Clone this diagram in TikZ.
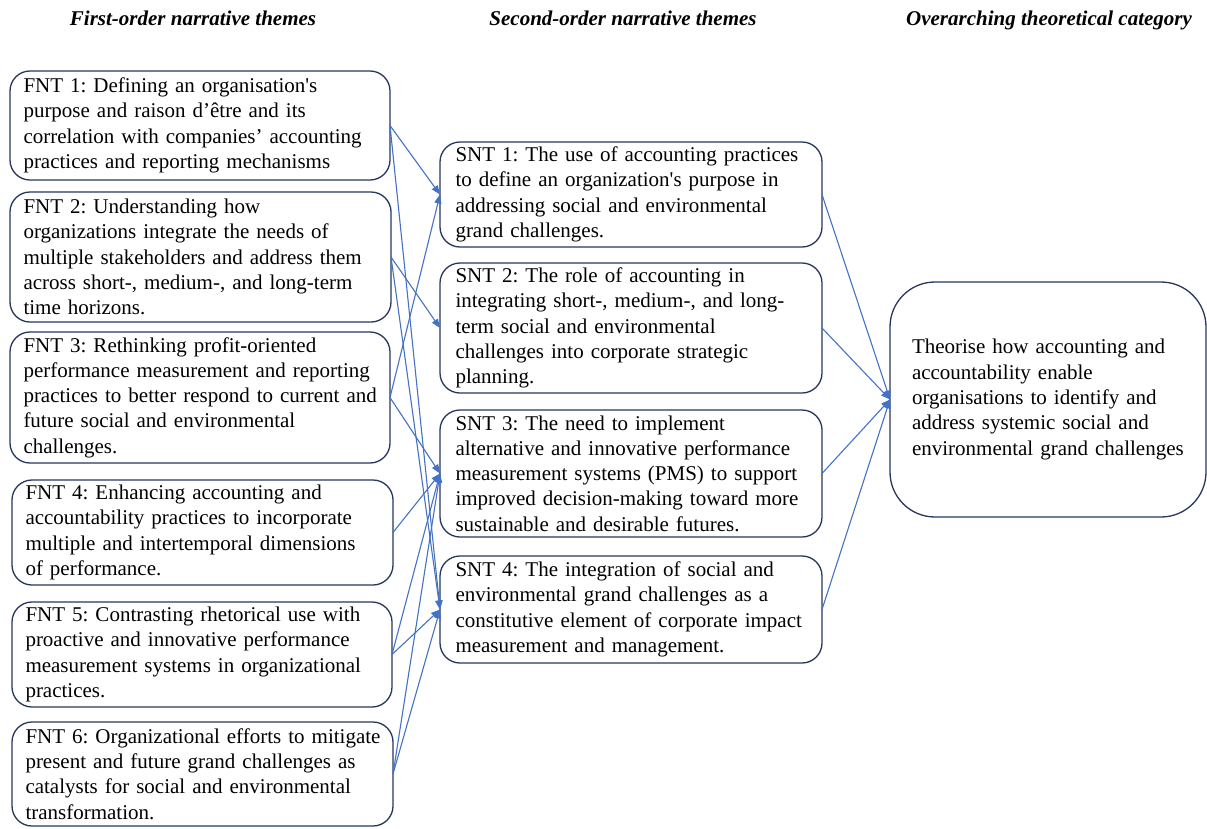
\documentclass[tikz,border=0pt]{standalone}
\usepackage{fontspec}
\setmainfont{Liberation Serif}
\newfontfamily\bodyfont{Liberation Serif}[Ligatures=TeXOff]
\usetikzlibrary{arrows.meta}
\definecolor{boxline}{HTML}{26385E}
\definecolor{arrowcol}{HTML}{4472C4}
\newcommand\tline[1]{\mbox{#1}}
\tikzset{
  x=1pt, y=-1pt,
  themebox/.style={draw=boxline, line width=1.3pt, rounded corners=20pt, align=left,
    font=\bodyfont\fontsize{21}{25.3}\selectfont\frenchspacing, inner ysep=0pt, anchor=north west, outer sep=0pt},
  header/.style={font=\fontsize{21}{25}\selectfont\bfseries\itshape, anchor=base, inner sep=0pt},
  link/.style={draw=arrowcol, line width=1.1pt, -{Triangle[length=9pt,width=7pt]}}
}
\begin{document}
\begin{tikzpicture}
\useasboundingbox (0,0) rectangle (1207,828);
\fill[white] (0,0) rectangle (1207,828);

\node[header] (h1) at (193,25) {First-order narrative themes};
\node[header] (h2) at (623,25) {Second-order narrative themes};
\node[header] (h3) at (1049,25) {Overarching theoretical category};

% First-order boxes
\node[themebox, inner xsep=13.5pt, text width=353pt, minimum height=109pt] (f1) at (10,71)
 {\tline{FNT 1: Defining an organisation's}\\\tline{purpose and raison d’être and its}\\\tline{correlation with companies’ accounting}\\\tline{practices and reporting mechanisms}};
\node[themebox, inner xsep=13.5pt, text width=354pt, minimum height=130pt] (f2) at (10,192)
 {\tline{FNT 2: Understanding how}\\\tline{organizations integrate the needs of}\\\tline{multiple stakeholders and address them}\\\tline{across short-, medium-, and long-term}\\\tline{time horizons.}};
\node[themebox, inner xsep=13.5pt, text width=353pt, minimum height=131pt] (f3) at (10,332)
 {\tline{FNT 3: Rethinking profit-oriented}\\\tline{performance measurement and reporting}\\\tline{practices to better respond to current and}\\\tline{future social and environmental}\\\tline{challenges.}};
\node[themebox, inner xsep=13.5pt, text width=354pt, minimum height=105pt] (f4) at (12,480)
 {\tline{FNT 4: Enhancing accounting and}\\\tline{accountability practices to incorporate}\\\tline{multiple and intertemporal dimensions}\\\tline{of performance.}};
\node[themebox, inner xsep=13.5pt, text width=353pt, minimum height=105pt] (f5) at (12,602)
 {\tline{FNT 5: Contrasting rhetorical use with}\\\tline{proactive and innovative performance}\\\tline{measurement systems in organizational}\\\tline{practices.}};
\node[themebox, inner xsep=13.5pt, text width=354pt, minimum height=104pt] (f6) at (12,722)
 {\tline{FNT 6: Organizational efforts to mitigate}\\\tline{present and future grand challenges as}\\\tline{catalysts for social and environmental}\\\tline{transformation.}};

% Second-order boxes
\node[themebox, inner xsep=15.5pt, text width=351pt, minimum height=105pt] (s1) at (440,142)
 {\tline{SNT 1: The use of accounting practices}\\\tline{to define an organization's purpose in}\\\tline{addressing social and environmental}\\\tline{grand challenges.}};
\node[themebox, inner xsep=15.5pt, text width=351pt, minimum height=130pt] (s2) at (440,263)
 {\tline{SNT 2: The role of accounting in}\\\tline{integrating short-, medium-, and long-}\\\tline{term social and environmental}\\\tline{challenges into corporate strategic}\\\tline{planning.}};
\node[themebox, inner xsep=15.5pt, text width=351pt, minimum height=127pt] (s3) at (440,410)
 {\tline{SNT 3: The need to implement}\\\tline{alternative and innovative performance}\\\tline{measurement systems (PMS) to support}\\\tline{improved decision-making toward more}\\\tline{sustainable and desirable futures.}};
\node[themebox, inner xsep=15.5pt, text width=351pt, minimum height=107pt] (s4) at (440,556)
 {\tline{SNT 4: The integration of social and}\\\tline{environmental grand challenges as a}\\\tline{constitutive element of corporate impact}\\\tline{measurement and management.}};

% Overarching box
\node[themebox, rounded corners=45pt, inner xsep=22pt, text width=272pt, minimum height=235pt] (o) at (890,282)
 {\tline{Theorise how accounting and}\\\tline{accountability enable}\\\tline{organisations to identify and}\\\tline{address systemic social and}\\\tline{environmental grand challenges}};

% First -> second
\draw[link] (f1.east) -- (s1.west);
\draw[link] (f1.east) -- (s4.west);
\draw[link] (f2.east) -- (s2.west);
\draw[link] (f2.east) -- (s4.west);
\draw[link] (f3.east) -- (s1.west);
\draw[link] (f3.east) -- (s3.west);
\draw[link] (f4.east) -- (s3.west);
\draw[link] (f5.east) -- (s3.west);
\draw[link] (f5.east) -- (s4.west);
\draw[link] (f6.east) -- (s3.west);
\draw[link] (f6.east) -- (s4.west);

% Second -> overarching
\draw[link] (s1.east) -- (o.west);
\draw[link] (s2.east) -- (o.west);
\draw[link] (s3.east) -- (o.west);
\draw[link] (s4.east) -- (o.west);
\end{tikzpicture}
\end{document}
